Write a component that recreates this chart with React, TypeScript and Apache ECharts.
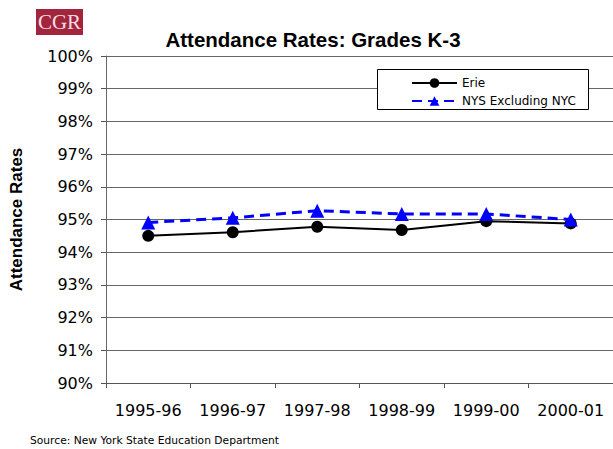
import React, { useEffect, useRef } from "react";
import * as echarts from "echarts";

const categories = ["1995-96", "1996-97", "1997-98", "1998-99", "1999-00", "2000-01"];
const erieValues = [94.5, 94.61, 94.78, 94.68, 94.95, 94.88];
const nysValues = [94.91, 95.05, 95.27, 95.17, 95.17, 95.0];
const seriesNames = ["Erie", "NYS Excluding NYC"];

export default function App() {
  const ref = useRef<HTMLDivElement>(null);
  useEffect(() => {
    document.body.style.margin = "0";
    if (!ref.current) return;
    const chart = echarts.init(ref.current, undefined, { renderer: "svg" });
    chart.setOption({
      animation: false,
      backgroundColor: "#fff",
      title: {
        text: "Attendance Rates: Grades K-3",
        left: 308,
        textAlign: "center",
        top: 24,
        textStyle: { fontFamily: "Liberation Sans", fontWeight: "bold", fontSize: 20.5, color: "#000" },
      },
      grid: { left: 101, right: 0, top: 56, bottom: 66, containLabel: false },
      legend: {
        orient: "vertical",
        left: 406,
        top: 72,
        itemWidth: 45,
        itemHeight: 12,
        itemGap: 6,
        z: 5,
        textStyle: { fontFamily: "DejaVu Sans", fontSize: 12, color: "#000" },
        data: seriesNames,
      },
      graphic: [
        {
          type: "rect",
          z: 3,
          shape: { x: 377.5, y: 69.5, width: 211, height: 40 },
          style: { fill: "#fff", stroke: "#000", lineWidth: 1 },
        },
        {
          type: "rect",
          shape: { x: 36, y: 9, width: 47, height: 26 },
          style: { fill: "#a3253d" },
        },
        {
          type: "text",
          x: 59.5,
          y: 22,
          style: {
            text: "CGR",
            fill: "#f4dfe2",
            font: "21px 'Liberation Serif'",
            align: "center",
            verticalAlign: "middle",
          },
        },
        {
          type: "text",
          x: 30,
          y: 440,
          style: {
            text: "Source: New York State Education Department",
            fill: "#000",
            font: "10.7px 'DejaVu Sans'",
            verticalAlign: "middle",
          },
        },
      ],
      xAxis: {
        type: "category",
        data: categories,
        boundaryGap: true,
        axisLine: { lineStyle: { color: "#555", width: 1 } },
        axisTick: { show: true, length: 5, interval: 0, lineStyle: { color: "#555" } },
        axisLabel: { interval: 0, fontFamily: "DejaVu Sans", fontSize: 16, color: "#000", margin: 19 },
      },
      yAxis: {
        type: "value",
        min: 90,
        max: 100,
        interval: 1,
        name: "Attendance Rates",
        nameLocation: "middle",
        nameGap: 81,
        nameTextStyle: { fontFamily: "Liberation Sans", fontWeight: "bold", fontSize: 17, color: "#000" },
        axisLine: { show: true, lineStyle: { color: "#666", width: 1 } },
        axisTick: { show: true, length: 5, lineStyle: { color: "#555" } },
        axisLabel: {
          fontFamily: "DejaVu Sans",
          fontSize: 16,
          color: "#000",
          margin: 13,
          formatter: (v: number) => v + "%",
        },
        splitLine: { show: true, lineStyle: { color: "#666", width: 1 } },
      },
      series: [
        {
          name: seriesNames[0],
          type: "line",
          data: erieValues,
          symbol: "circle",
          symbolSize: 12,
          lineStyle: { color: "#000", width: 2 },
          itemStyle: { color: "#000" },
          z: 3,
        },
        {
          name: seriesNames[1],
          type: "line",
          data: nysValues,
          symbol: "triangle",
          symbolSize: 14,
          lineStyle: { color: "#0000ff", width: 3, type: [10, 6] },
          itemStyle: { color: "#0000ff" },
          z: 4,
        },
      ],
    });
    return () => chart.dispose();
  }, []);
  return <div ref={ref} style={{ width: 613, height: 449 }} />;
}
